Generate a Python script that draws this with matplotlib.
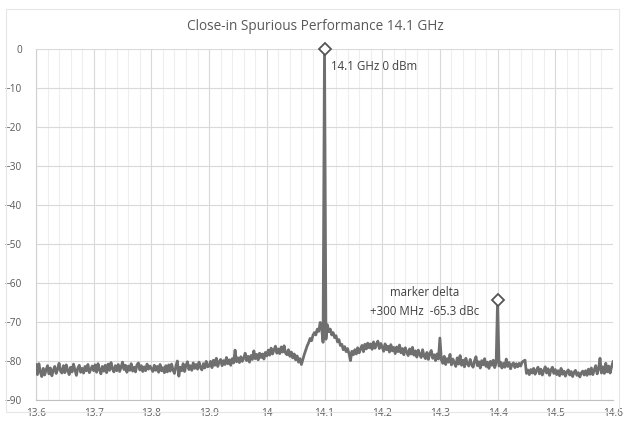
import numpy as np
import matplotlib
matplotlib.use("Agg")
import matplotlib.pyplot as plt
from matplotlib.ticker import MultipleLocator, FixedLocator
from matplotlib.patches import Rectangle

# ---- data ----
x_start = 13.6
x_step = 0.0025

row1 = [-81.0, -83.6, -80.8, -82.9, -84.1, -82.0, -83.7, -82.4, -81.3, -83.4, -81.9, -83.9, -82.5, -81.5, -83.3, -82.2, -80.7, -82.7, -83.2, -81.3,
        -83.1, -81.1, -82.5, -83.6, -81.7, -82.9, -80.9, -82.3, -83.8, -81.9, -81.2, -83.0, -82.0, -83.2, -81.5, -82.6, -81.0, -83.1, -82.2, -81.4]
row2 = [-82.6, -81.1, -83.0, -80.8, -82.3, -83.4, -81.5, -82.7, -81.2, -83.1, -80.9, -82.5, -80.5, -82.1, -82.9, -81.3, -82.6, -81.0, -82.8, -81.6,
        -80.4, -82.3, -81.2, -83.0, -81.4, -82.5, -80.8, -82.7, -81.7, -82.9, -81.1, -80.6, -82.4, -81.3, -82.8, -81.6, -82.6, -80.9, -82.2, -81.4]
row3 = [-82.1, -82.8, -81.2, -82.5, -81.5, -83.0, -81.0, -82.6, -81.8, -83.1, -81.3, -82.9, -81.1, -82.7, -80.9, -82.4, -83.3, -81.4, -80.1, -84.0,
        -81.7, -82.6, -80.8, -82.8, -81.2, -80.3, -82.3, -81.3, -82.5, -80.6, -82.0, -81.0, -82.2, -80.4, -81.8, -82.4, -80.8, -81.9, -80.2, -81.6]
row4 = [-81.4, -80.2, -81.8, -79.9, -81.2, -79.4, -81.5, -80.3, -79.7, -81.3, -80.0, -81.0, -79.2, -80.8, -79.8, -81.2, -79.5, -80.6, -77.3, -80.3,
        -79.3, -80.5, -79.0, -80.2, -79.4, -78.1, -80.0, -78.9, -80.4, -78.7, -79.7, -77.5, -79.5, -78.4, -79.8, -78.1, -79.2, -78.3, -79.6, -77.9]
row5 = [-78.8, -77.3, -78.6, -76.8, -78.3, -77.2, -76.3, -78.1, -77.0, -78.2, -76.5, -77.8, -76.2, -78.1, -78.5, -77.2, -78.9, -77.8, -79.3, -78.3,
        -79.8, -78.8, -80.4, -79.5, -81.0, -79.7, -78.4, -77.3, -76.2, -75.4, -74.3, -74.9, -73.5, -72.8, -73.4, -71.9, -72.5, -70.2, -71.6, -75.3]
row6 = [0.0, -74.5, -70.8, -72.6, -71.9, -73.4, -72.8, -74.1, -73.6, -75.2, -74.6, -76.1, -75.8, -77.2, -76.4, -77.7, -76.9, -78.2, -80.0, -77.6,
        -78.5, -77.2, -78.3, -76.7, -78.0, -77.0, -76.1, -77.7, -75.8, -77.0, -75.5, -76.7, -75.7, -77.1, -75.2, -76.8, -75.8, -75.0, -76.9, -75.6]
row7 = [-76.5, -77.6, -75.7, -77.2, -76.3, -77.8, -75.9, -77.5, -76.6, -78.2, -76.5, -77.7, -76.0, -78.0, -76.9, -78.5, -76.7, -77.8, -78.7, -77.0,
        -78.3, -76.6, -78.6, -77.5, -79.1, -77.3, -78.4, -79.2, -77.2, -78.8, -79.5, -77.9, -79.7, -78.2, -77.4, -79.4, -78.5, -80.0, -78.3, -79.6]
row8 = [-74.2, -79.8, -80.7, -78.9, -81.0, -79.5, -80.4, -78.4, -81.1, -79.6, -80.6, -81.5, -79.3, -80.9, -78.7, -81.2, -79.9, -81.6, -79.4, -80.8,
        -81.4, -79.7, -81.0, -81.7, -80.1, -79.0, -81.3, -80.3, -81.9, -80.0, -81.1, -79.5, -81.5, -80.4, -82.0, -80.2, -81.2, -79.9, -81.8, -80.6]
row9 = [-64.3, -81.4, -80.4, -81.9, -80.7, -81.7, -79.6, -81.5, -80.5, -82.1, -81.0, -80.6, -81.8, -80.8, -81.6, -80.7, -81.4, -80.4, -80.1, -79.9,
        -83.3, -82.4, -83.6, -82.3, -83.2, -82.0, -83.5, -82.5, -81.7, -83.4, -82.2, -83.7, -82.6, -81.6, -83.2, -82.1, -83.8, -82.4, -81.7, -83.3]
row10 = [-82.3, -83.6, -82.6, -83.9, -82.0, -83.5, -82.7, -84.0, -82.9, -82.4, -83.7, -82.8, -84.1, -83.0, -82.5, -83.8, -83.1, -84.2, -83.2, -82.7,
         -83.7, -82.6, -83.8, -82.2, -83.5, -81.9, -83.6, -82.4, -81.3, -83.4, -82.2, -79.4, -83.2, -81.6, -83.3, -80.7, -82.9, -81.4, -83.2, -81.6]
last_point = [-80.3]

power_dbm = row1 + row2 + row3 + row4 + row5 + row6 + row7 + row8 + row9 + row10 + last_point
freq_ghz = x_start + x_step * np.arange(len(power_dbm))

marker_freq = [14.1, 14.4]
marker_level = [0.0, -64.3]

title = "Close-in Spurious Performance 14.1 GHz"
label_carrier = "14.1 GHz 0 dBm"
label_delta = "marker delta\n+300 MHz  -65.3 dBc"

# ---- figure ----
W, H = 630, 422
fig = plt.figure(figsize=(W / 100, H / 100), dpi=100)
plt.rcParams['font.family'] = ['Open Sans', 'DejaVu Sans']

# faint chart-area border
fig.patches.append(Rectangle((6 / W, 1 - 412 / H), (619 - 6) / W, (412 - 9) / H,
                             transform=fig.transFigure, fill=False,
                             edgecolor="#e6e6e6", linewidth=0.8))

ax = fig.add_axes([36 / W, 1 - 399.5 / H, (613 - 36) / W, (399.5 - 49.4) / H])

line_color = "#6f6f6f"
ax.plot(freq_ghz, power_dbm, color=line_color, linewidth=2.0, zorder=3)
ax.plot(marker_freq, marker_level, linestyle="none", marker="D", markersize=6.5,
        markerfacecolor="white", markeredgecolor="#555555", markeredgewidth=1.3,
        zorder=5, clip_on=False)

ax.set_xlim(13.6, 14.6)
ax.set_ylim(-90, 0)
xt = np.round(np.arange(13.6, 14.61, 0.1), 2)
ax.xaxis.set_major_locator(FixedLocator(xt))
ax.xaxis.set_minor_locator(MultipleLocator(0.02))
ax.yaxis.set_major_locator(MultipleLocator(10))
ax.set_xticklabels([f"{v:g}" for v in xt])

ax.grid(which="major", color="#d9d9d9", linewidth=0.8, zorder=0)
ax.grid(which="minor", axis="x", color="#eeeeee", linewidth=0.8, zorder=0)
ax.set_axisbelow(True)

for s in ["top", "right"]:
    ax.spines[s].set_visible(False)
ax.spines["left"].set_color("#d0d0d0")
ax.spines["bottom"].set_color("#bfbfbf")
ax.tick_params(which="both", length=0, labelsize=7.2, labelcolor="#595959")
ax.tick_params(axis="x", pad=6)
ax.tick_params(axis="y", pad=10)

fig.text(0.5, 1 - 27 / H, title, ha="center", va="center", fontsize=9.8, color="#595959")

ax.text(14.112, -4.3, label_carrier, fontsize=8.3, color="#404040", va="center", ha="left")
ax.text(14.274, -65.0, label_delta, fontsize=8.3, color="#404040", va="center", ha="center",
        linespacing=1.6, multialignment="center")

fig.savefig("out.png", dpi=100, facecolor="white")
